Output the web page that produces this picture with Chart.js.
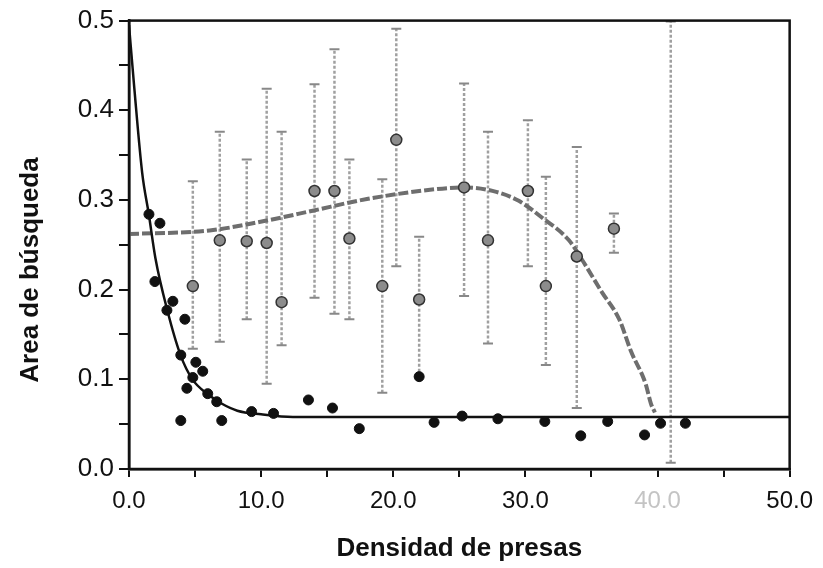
<!DOCTYPE html>
<html>
<head>
<meta charset="utf-8">
<script src="https://cdn.jsdelivr.net/npm/chart.js"></script>
<style>
  html, body { margin: 0; padding: 0; background: #ffffff; }
  #wrap { width: 823px; height: 568px; }
</style>
</head>
<body>
<div id="wrap"><canvas id="areaChart" width="823" height="568"></canvas></div>
<script>
// --- data ---
// black points: search area per prey density
var dotX = [1.51, 2.34, 1.96, 3.32, 2.87, 4.23, 3.92, 5.06, 5.58, 4.83, 4.38, 3.92, 5.96, 6.64, 7.02,
            9.28, 10.94, 13.58, 15.40, 17.43, 21.96, 23.09, 25.21, 27.92, 31.47, 34.19, 36.23, 39.02, 40.23, 42.11];
var dotY = [0.284, 0.274, 0.209, 0.187, 0.177, 0.167, 0.127, 0.119, 0.109, 0.102, 0.090, 0.054, 0.084, 0.075, 0.054,
            0.064, 0.062, 0.077, 0.068, 0.045, 0.103, 0.052, 0.059, 0.056, 0.053, 0.037, 0.053, 0.038, 0.051, 0.051];

// fitted black curve
var fitX = [0, 0.4, 1, 1.5, 2, 2.9, 3.9, 4.8, 6, 7, 8.2, 10, 12.4, 16, 25, 35, 50];
var fitY = [0.495, 0.425, 0.33, 0.284, 0.235, 0.177, 0.127, 0.100, 0.083, 0.073, 0.065, 0.061, 0.058, 0.058, 0.058, 0.058, 0.058];

// grey curve
var greyX = [0, 6.1, 10.4, 13.9, 18.0, 23.2, 25.5, 27.8, 29.5, 31.2, 33.3, 34.3, 35.8, 37.1, 38.0, 39.1, 39.5, 39.8];
var greyY = [0.262, 0.266, 0.277, 0.288, 0.301, 0.312, 0.314, 0.309, 0.299, 0.281, 0.255, 0.233, 0.197, 0.167, 0.131, 0.095, 0.073, 0.063];

// grey means with error bars
var barX    = [4.83, 6.87, 8.91, 10.42, 11.55, 14.04, 15.55, 16.68, 19.17, 20.23, 21.96, 25.36, 27.17, 30.19, 31.55, 33.89, 36.7, 41.0];
var barMean = [0.204, 0.255, 0.254, 0.252, 0.186, 0.310, 0.310, 0.257, 0.204, 0.367, 0.189, 0.314, 0.255, 0.310, 0.204, 0.237, 0.268, null];
var barHigh = [0.321, 0.376, 0.345, 0.424, 0.376, 0.429, 0.468, 0.345, 0.323, 0.491, 0.259, 0.430, 0.376, 0.389, 0.326, 0.359, 0.285, 0.499];
var barLow  = [0.134, 0.142, 0.167, 0.095, 0.138, 0.191, 0.173, 0.167, 0.085, 0.226, 0.103, 0.193, 0.140, 0.226, 0.116, 0.068, 0.241, 0.007];

var xTicks = [0, 10, 20, 30, 40, 50];
var yTicks = [0, 0.1, 0.2, 0.3, 0.4, 0.5];
var yTitle = 'Area de búsqueda';
var xTitle = 'Densidad de presas';

function toPoints(xs, ys) {
    var pts = [];
    for (var i = 0; i < xs.length; i++) { pts.push({x: xs[i], y: ys[i]}); }
    return pts;
}

// error bars as one broken line: low, high, gap
var barPoints = [];
for (var i = 0; i < barX.length; i++) {
    barPoints.push({x: barX[i], y: barLow[i]});
    barPoints.push({x: barX[i], y: barHigh[i]});
    barPoints.push({x: barX[i], y: null});
}
var meanPoints = [];
for (var i = 0; i < barX.length; i++) {
    if (barMean[i] != null) { meanPoints.push({x: barX[i], y: barMean[i]}); }
}

var fontFamily = "'Liberation Sans', Arial, sans-serif";

// frame round the plot area + y title (sits a bit below the axis middle in the scan)
var frameBox = {
    id: 'frameBox',
    afterDraw: function(chart) {
        var a = chart.chartArea, ctx = chart.ctx;
        ctx.save();
        ctx.strokeStyle = '#111';
        ctx.lineWidth = 2.5;
        ctx.strokeRect(a.left, a.top, a.right - a.left, a.bottom - a.top);
        ctx.translate(31, 270);
        ctx.rotate(-Math.PI / 2);
        ctx.fillStyle = '#111';
        ctx.font = 'bold 26px ' + fontFamily;
        ctx.textAlign = 'center';
        ctx.textBaseline = 'middle';
        ctx.fillText(yTitle, 0, 0);
        ctx.restore();
    }
};

new Chart(document.getElementById('areaChart'), {
    type: 'scatter',
    data: {
        datasets: [
            {
                label: 'barras',
                type: 'line',
                data: barPoints,
                showLine: true,
                spanGaps: false,
                borderColor: '#a0a0a0',
                borderWidth: 2.5,
                borderDash: [3, 2],
                pointStyle: 'line',
                pointRadius: 5,
                pointBorderWidth: 2,
                pointBorderColor: '#888',
                order: 5
            },
            {
                label: 'curva gris',
                type: 'line',
                data: toPoints(greyX, greyY),
                borderColor: '#6e6e6e',
                borderWidth: 4,
                borderDash: [10, 3],
                cubicInterpolationMode: 'monotone',
                pointRadius: 0,
                order: 4
            },
            {
                label: 'medias',
                data: meanPoints,
                backgroundColor: '#8c8c8c',
                borderColor: '#333',
                borderWidth: 1.5,
                pointRadius: 5.5,
                order: 3
            },
            {
                label: 'ajuste',
                type: 'line',
                data: toPoints(fitX, fitY),
                borderColor: '#111',
                borderWidth: 2.5,
                cubicInterpolationMode: 'monotone',
                pointRadius: 0,
                order: 2
            },
            {
                label: 'puntos',
                data: toPoints(dotX, dotY),
                backgroundColor: '#111',
                borderColor: '#111',
                pointRadius: 5,
                order: 1
            }
        ]
    },
    options: {
        responsive: false,
        animation: false,
        layout: { padding: {top: 14, right: 31, left: 0, bottom: 0} },
        plugins: {
            legend: { display: false },
            tooltip: { enabled: false }
        },
        scales: {
            x: {
                type: 'linear',
                min: 0, max: 50,
                afterFit: function(scale) { scale.height = 99; },
                afterBuildTicks: function(scale) {
                    var t = [];
                    for (var v = 0; v <= 50; v += 5) { t.push({value: v}); }
                    scale.ticks = t;
                },
                ticks: {
                    font: {family: fontFamily, size: 24},
                    color: function(c) { return c.tick.value == 40 ? '#c4c4c4' : '#111'; },
                    padding: 10,
                    maxRotation: 0,
                    autoSkip: false,
                    callback: function(v) { return xTicks.indexOf(v) >= 0 ? v.toFixed(1) : ''; }
                },
                grid: { drawOnChartArea: false, drawTicks: true, tickLength: 8, color: '#111', lineWidth: 2 },
                border: { color: '#111', width: 2.5 },
                title: { display: true, text: xTitle, font: {family: fontFamily, size: 26, weight: 'bold'}, color: '#111', padding: {top: 0, bottom: 4} }
            },
            y: {
                type: 'linear',
                min: 0, max: 0.5,
                afterFit: function(scale) { scale.width = 129; },
                afterBuildTicks: function(scale) {
                    var t = [];
                    for (var k = 0; k <= 10; k++) { t.push({value: k * 0.05}); }
                    scale.ticks = t;
                },
                ticks: {
                    font: {family: fontFamily, size: 26},
                    color: '#111',
                    padding: 5,
                    autoSkip: false,
                    callback: function(v) {
                        var r = Math.round(v * 100) / 100;
                        return yTicks.indexOf(r) >= 0 ? r.toFixed(1) : '';
                    }
                },
                grid: { drawOnChartArea: false, drawTicks: true, tickLength: 10, color: '#111', lineWidth: 2 },
                border: { color: '#111', width: 2.5 },
                title: { display: false }
            }
        }
    },
    plugins: [frameBox]
});
</script>
</body>
</html>
